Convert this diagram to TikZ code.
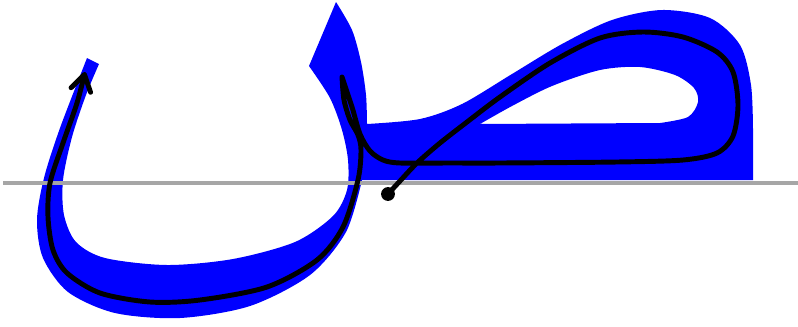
\documentclass[tikz,border=0pt]{standalone}
\usetikzlibrary{arrows.meta}
\begin{document}
\begin{tikzpicture}[x=0.75pt,y=-0.75pt,
  glyph/.style={fill={rgb,255:red,0;green,0;blue,255}, even odd rule},
  guideline/.style={draw={rgb,255:red,166;green,166;blue,166}, line width=3.5pt},
  penpath/.style={draw=black, line width=3.7pt, line cap=round, line join=round},
  startdot/.style={fill=black}]
\useasboundingbox (0,0) rectangle (798,326);
% glyph body
\fill[glyph] (87,58) -- (99,64)
  -- plot[smooth] coordinates {(99,64) (86,95) (72,137) (63,180) (64,215) (76,242) (105,258) (167,265) (233,259) (295,242) (333,216) (347,190) (348,160) (342,130) (330,98) (309,66)}
  -- (336,2)
  -- plot[smooth] coordinates {(336,2) (352,30) (361,62) (366,95) (367,124)}
  -- plot[smooth] coordinates {(367,124) (420,119) (462,104) (512,74) (562,44) (612,20) (662,10) (710,18) (740,45) (751,85) (753,130)}
  -- (753,180) -- (362,180)
  -- plot[smooth] coordinates {(362,180) (346,232) (310,275) (250,306) (180,318) (115,313) (68,292) (43,258) (37,220) (44,178) (60,128) (87,58)}
  -- cycle
  (480,124) -- plot[smooth] coordinates {(480,124) (512,106) (552,86) (600,70) (640,67) (675,75) (694,88) (698,102) (688,117) (660,123)} -- cycle;
% baseline guide
\coordinate (gl) at (3,183);
\coordinate (gr) at (798,183);
\draw[guideline] (gl) -- (gr);
% pen path
\coordinate (start) at (388,194);
\coordinate (turn) at (342,77);
\coordinate (finish) at (85,72);
\draw[penpath, -{Straight Barb[length=12pt,width=15pt,round]}]
  plot[smooth] coordinates {(388,194) (400,181) (417,163) (440,143) (467,122) (500,97) (550,63) (600,38) (643,32) (683,37) (717,52) (733,72) (738,105) (733,136) (717,153) (683,160) (617,162) (500,163) (450,163) (400,163) (383,160) (370,151) (360,134) (352,107) (342,77)}
  -- plot[smooth] coordinates {(342,77) (344,100) (350,120) (358,135) (361,150) (358,180) (343,227) (317,260) (267,287) (200,300) (150,302) (100,293) (67,273) (53,250) (48,217) (50,183) (63,143) (77,103) (85,72)};
\fill[startdot] (start) circle[radius=5.2pt];
\end{tikzpicture}
\end{document}
